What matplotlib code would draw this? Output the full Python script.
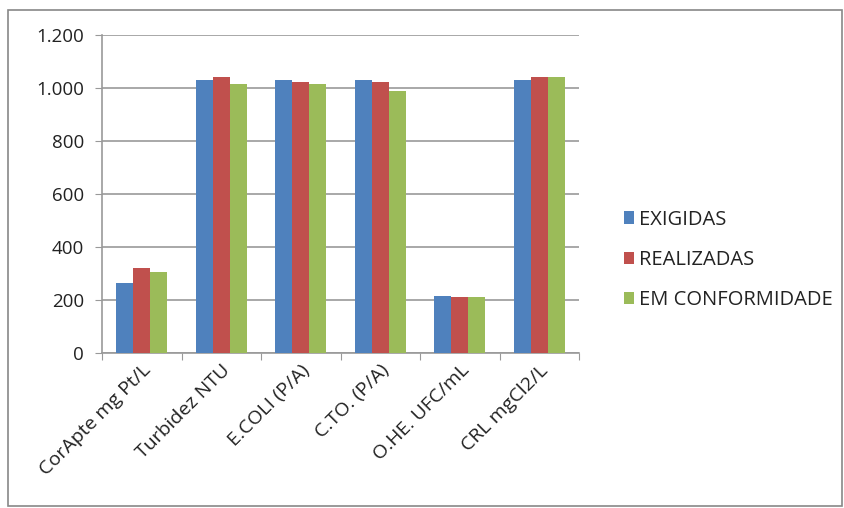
import matplotlib
matplotlib.use("Agg")
import matplotlib.pyplot as plt
import numpy as np
from matplotlib.patches import Rectangle

categories = ["CorApte mg Pt/L", "Turbidez NTU", "E.COLI (P/A)", "C.TO. (P/A)", "O.HE. UFC/mL", "CRL mgCl2/L"]
exigidas = [264, 1030, 1030, 1030, 215, 1030]
realizadas = [320, 1043, 1022, 1022, 211, 1043]
em_conformidade = [305, 1016, 1016, 988, 211, 1043]
series_names = ["EXIGIDAS", "REALIZADAS", "EM CONFORMIDADE"]
colors = ["#4F81BD", "#C0504D", "#9BBB59"]
yticks = [0, 200, 400, 600, 800, 1000, 1200]
yticklabels = ["0", "200", "400", "600", "800", "1.000", "1.200"]

plt.rcParams['font.family'] = ['Open Sans', 'DejaVu Sans']

W, H = 844, 508
fig = plt.figure(figsize=(W/100, H/100), dpi=100)
fig.patches.append(Rectangle((8/W, 2/H), 834/W, 496/H, transform=fig.transFigure,
                             fill=False, edgecolor="#888888", linewidth=1.2))
ax = fig.add_axes([102/W, 1 - 353/H, (579-102)/W, (353-35)/H])

x = np.arange(len(categories))
bw = 0.215
for i, (vals, name, c) in enumerate(zip([exigidas, realizadas, em_conformidade], series_names, colors)):
    ax.bar(x + (i - 1) * bw, vals, width=bw, color=c, label=name, zorder=3)

ax.set_xlim(-0.5, len(categories) - 0.5)
ax.set_ylim(0, 1200)
ax.set_yticks(yticks)
ax.set_yticklabels(yticklabels, fontsize=13.5, color="#222222")
ax.yaxis.grid(True, color="#999999", linewidth=1.2, zorder=0)
ax.set_axisbelow(True)

ax.set_xticks(np.arange(-0.5, len(categories) + 0.5, 1))
ax.set_xticklabels([])
ax.set_xticks(x, minor=True)
ax.set_xticklabels(categories, minor=True, rotation=45, ha="right", rotation_mode="anchor",
                   fontsize=14, color="#222222")
ax.tick_params(axis="x", which="minor", length=0, pad=6)
ax.tick_params(axis="x", which="major", length=5, color="#999999")
ax.tick_params(axis="y", length=5, color="#999999", pad=8)

for s in ["top", "right"]:
    ax.spines[s].set_visible(False)
for s in ["left", "bottom"]:
    ax.spines[s].set_color("#999999")
    ax.spines[s].set_linewidth(1.2)

leg = ax.legend(loc="center left", bbox_to_anchor=(606/W, 1 - 260/H), bbox_transform=fig.transFigure,
                frameon=False, fontsize=14.5, handlelength=0.5, handleheight=0.6,
                handletextpad=0.25, labelspacing=1.0)
for t in leg.get_texts():
    t.set_color("#222222")

fig.savefig("out.png", dpi=100)
